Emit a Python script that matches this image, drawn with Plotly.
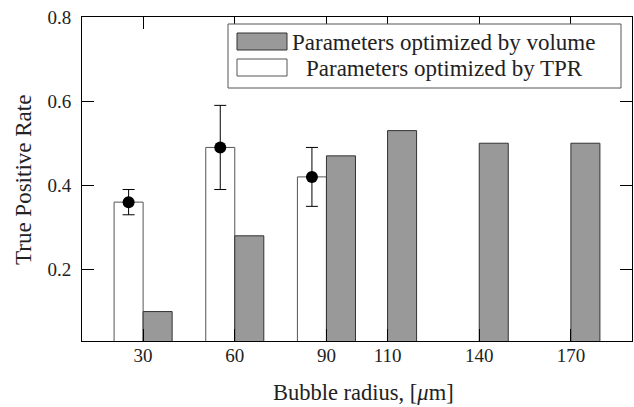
import plotly.graph_objects as go

# Data
radius_tpr = [30, 60, 90]
tpr_opt_tpr = [0.36, 0.49, 0.42]
tpr_err = [0.03, 0.10, 0.07]
radius_vol = [30, 60, 90, 110, 140, 170]
tpr_opt_vol = [0.10, 0.28, 0.47, 0.53, 0.50, 0.50]
x_ticks = [30, 60, 90, 110, 140, 170]
y_ticks = [0.2, 0.4, 0.6, 0.8]

BAR_W = 9.5
FONT = "Liberation Serif, Times New Roman, serif"

W, H = 634, 407
L, R, T, B = 82, 2, 17, 66
pw, ph = W - L - R, H - T - B


def px(xp):
    return (xp - L) / pw


def py(yp):
    return (H - B - yp) / ph


fig = go.Figure()

fig.add_trace(go.Bar(
    x=radius_tpr, y=tpr_opt_tpr, width=BAR_W, offset=-BAR_W,
    marker=dict(color="white", line=dict(color="#555555", width=1)),
    showlegend=False,
))
fig.add_trace(go.Bar(
    x=radius_vol, y=tpr_opt_vol, width=BAR_W, offset=0,
    marker=dict(color="#999999", line=dict(color="#333333", width=1)),
    showlegend=False,
))
fig.add_trace(go.Scatter(
    x=[r - BAR_W / 2 for r in radius_tpr], y=tpr_opt_tpr, mode="markers",
    marker=dict(color="black", size=12),
    error_y=dict(type="data", array=tpr_err, color="black", thickness=1, width=6),
    showlegend=False,
))

axis_common = dict(
    showline=True, linecolor="black", linewidth=1, mirror="ticks",
    ticks="inside", ticklen=12, tickwidth=1, tickcolor="black",
    showgrid=False, zeroline=False,
    tickfont=dict(family=FONT, size=19, color="#222222"),
)

fig.update_layout(
    width=W, height=H,
    margin=dict(l=L, r=R, t=T, b=B),
    paper_bgcolor="white", plot_bgcolor="white",
    barmode="overlay",
    xaxis=dict(range=[10, 190], tickvals=x_ticks, ticklabelstandoff=-3, **axis_common),
    yaxis=dict(range=[0.03, 0.8], tickvals=y_ticks, ticklabelstandoff=6, **axis_common),
)

# Axis titles
fig.add_annotation(text="Bubble radius, [<i>μ</i>m]", xref="paper", yref="paper",
                   x=px(363), y=py(392), showarrow=False, xanchor="center", yanchor="middle",
                   font=dict(family=FONT, size=22.5, color="#222222"))
fig.add_annotation(text="True Positive Rate", xref="paper", yref="paper",
                   x=px(23), y=py(180), showarrow=False, xanchor="center", yanchor="middle",
                   textangle=-90, font=dict(family=FONT, size=23, color="#222222"))

# Legend (manual, gnuplot style)
fig.add_shape(type="rect", xref="paper", yref="paper",
              x0=px(228), x1=px(621), y0=py(88), y1=py(24),
              fillcolor="white", line=dict(color="#555555", width=1), layer="above")
fig.add_shape(type="rect", xref="paper", yref="paper",
              x0=px(237), x1=px(287), y0=py(50), y1=py(33),
              fillcolor="#999999", line=dict(color="#333333", width=1), layer="above")
fig.add_shape(type="rect", xref="paper", yref="paper",
              x0=px(237), x1=px(287), y0=py(76), y1=py(59),
              fillcolor="white", line=dict(color="#555555", width=1), layer="above")
fig.add_annotation(text="Parameters optimized by volume", xref="paper", yref="paper",
                   x=px(443), y=py(42), showarrow=False, xanchor="center", yanchor="middle",
                   font=dict(family=FONT, size=23, color="#222222"))
fig.add_annotation(text="Parameters optimized by TPR", xref="paper", yref="paper",
                   x=px(444), y=py(68), showarrow=False, xanchor="center", yanchor="middle",
                   font=dict(family=FONT, size=23, color="#222222"))

fig.write_html("out.html")
